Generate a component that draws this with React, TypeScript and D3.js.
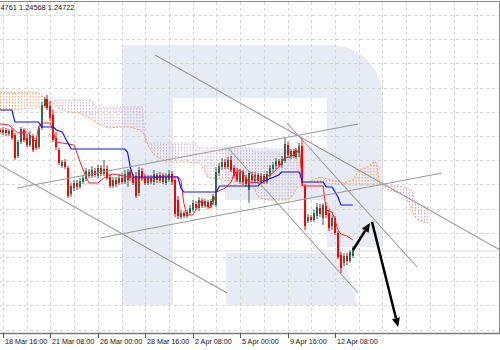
import React, { useEffect, useRef } from "react";
import * as d3 from "d3";

const W = 500;
const H = 350;

// H4 bars, bar 0 = 18 Mar 16:00. first visible bar is -1
const firstBar = -1;
// [open, high, low, close]
const candles: [number, number, number, number][] = [
  [1.2582, 1.2584, 1.2578, 1.258], [1.2579, 1.2585, 1.2577, 1.2582], [1.2582, 1.2584, 1.2576, 1.2579],
  [1.2578, 1.2583, 1.2576, 1.2581], [1.2582, 1.2584, 1.2572, 1.2574], [1.2577, 1.2579, 1.2552, 1.2554],
  [1.2556, 1.2572, 1.2554, 1.257], [1.257, 1.2585, 1.2568, 1.2583], [1.2582, 1.2584, 1.257, 1.2572],
  [1.2574, 1.2578, 1.2565, 1.2567], [1.2567, 1.2581, 1.2565, 1.2577], [1.2576, 1.2578, 1.256, 1.2562],
  [1.2572, 1.2574, 1.2562, 1.2564], [1.2565, 1.2586, 1.2563, 1.2584], [1.2584, 1.261, 1.2582, 1.2607],
  [1.2606, 1.2615, 1.2604, 1.2613], [1.2613, 1.2617, 1.2602, 1.2604], [1.2606, 1.2611, 1.2591, 1.2594],
  [1.2597, 1.2602, 1.257, 1.2572], [1.2574, 1.258, 1.2562, 1.2565], [1.2562, 1.2564, 1.2547, 1.2549],
  [1.2546, 1.2552, 1.2544, 1.255], [1.255, 1.2553, 1.2543, 1.2545], [1.2544, 1.2546, 1.2514, 1.2516],
  [1.2518, 1.2529, 1.2515, 1.2526], [1.2524, 1.2532, 1.2521, 1.2529], [1.2529, 1.2532, 1.2522, 1.2525],
  [1.2525, 1.2534, 1.2523, 1.2531], [1.253, 1.2537, 1.2528, 1.2534], [1.2533, 1.2544, 1.2531, 1.2541],
  [1.254, 1.2543, 1.2534, 1.2536], [1.2536, 1.2546, 1.2534, 1.2542], [1.2541, 1.2544, 1.2535, 1.2537],
  [1.2536, 1.2547, 1.2534, 1.2544], [1.2544, 1.2547, 1.2536, 1.2538], [1.2538, 1.2552, 1.2536, 1.2543],
  [1.2543, 1.2547, 1.2532, 1.2534], [1.2535, 1.2538, 1.2524, 1.2526], [1.2526, 1.2535, 1.2524, 1.2532],
  [1.2532, 1.2535, 1.2525, 1.2528], [1.2529, 1.2538, 1.2527, 1.2534], [1.2534, 1.2539, 1.2528, 1.253],
  [1.253, 1.2542, 1.2528, 1.2538], [1.2532, 1.2543, 1.2525, 1.254], [1.254, 1.2542, 1.2531, 1.2534],
  [1.2535, 1.2538, 1.2527, 1.2529], [1.2536, 1.254, 1.2514, 1.2516], [1.2519, 1.2545, 1.2516, 1.2542],
  [1.2541, 1.2544, 1.2531, 1.2534], [1.2535, 1.2538, 1.2527, 1.2529], [1.2529, 1.2537, 1.2527, 1.2534],
  [1.2534, 1.2537, 1.2528, 1.253], [1.253, 1.2542, 1.2527, 1.2538], [1.2537, 1.2539, 1.2529, 1.2532],
  [1.2531, 1.254, 1.2529, 1.2537], [1.2537, 1.2539, 1.2528, 1.253], [1.2529, 1.2539, 1.2527, 1.2535],
  [1.2532, 1.2542, 1.253, 1.2538], [1.2538, 1.2541, 1.2527, 1.253], [1.2532, 1.2534, 1.2495, 1.2498],
  [1.2512, 1.2516, 1.2493, 1.2496], [1.2495, 1.2502, 1.2493, 1.2499], [1.2499, 1.2501, 1.2494, 1.2496],
  [1.2496, 1.2502, 1.2494, 1.25], [1.2499, 1.2507, 1.2497, 1.2504], [1.2502, 1.2512, 1.25, 1.2509],
  [1.2508, 1.2511, 1.2502, 1.2504], [1.2504, 1.2515, 1.2501, 1.2512], [1.2511, 1.2514, 1.2504, 1.2506],
  [1.2506, 1.2513, 1.2504, 1.2511], [1.251, 1.2512, 1.2503, 1.2505], [1.2506, 1.2513, 1.2504, 1.2511],
  [1.251, 1.2518, 1.2507, 1.2516], [1.2507, 1.2545, 1.2505, 1.254], [1.2539, 1.2549, 1.2536, 1.2546],
  [1.2545, 1.2554, 1.2542, 1.255], [1.255, 1.2553, 1.2543, 1.2545], [1.2545, 1.2555, 1.2543, 1.2552],
  [1.2552, 1.2556, 1.254, 1.2542], [1.2544, 1.2547, 1.2534, 1.2536], [1.254, 1.2544, 1.253, 1.2532],
  [1.253, 1.2543, 1.2528, 1.254], [1.254, 1.2542, 1.2527, 1.253], [1.2534, 1.2537, 1.2525, 1.2528],
  [1.2522, 1.2541, 1.2509, 1.2539], [1.2538, 1.254, 1.2529, 1.2532], [1.2531, 1.254, 1.2529, 1.2537],
  [1.2537, 1.2539, 1.2528, 1.2531], [1.253, 1.2539, 1.2528, 1.2536], [1.2536, 1.2538, 1.2528, 1.253],
  [1.253, 1.2541, 1.2528, 1.2538], [1.2536, 1.2547, 1.2533, 1.2544], [1.2543, 1.255, 1.254, 1.2547],
  [1.2546, 1.2554, 1.2543, 1.2551], [1.2551, 1.2553, 1.2545, 1.2547], [1.2547, 1.2556, 1.2544, 1.2553],
  [1.2551, 1.2574, 1.2549, 1.2568], [1.2567, 1.257, 1.2554, 1.2557], [1.2556, 1.2563, 1.2553, 1.2561],
  [1.2561, 1.2563, 1.2554, 1.2556], [1.2555, 1.2564, 1.2553, 1.2562], [1.2559, 1.2569, 1.2555, 1.2566],
  [1.2566, 1.2574, 1.2526, 1.2529], [1.2526, 1.2528, 1.2482, 1.2486], [1.2491, 1.2498, 1.2489, 1.2495],
  [1.2495, 1.2497, 1.249, 1.2492], [1.2492, 1.2502, 1.249, 1.2499], [1.2496, 1.2509, 1.2493, 1.2505],
  [1.2504, 1.2508, 1.2495, 1.2498], [1.2494, 1.2509, 1.2487, 1.2507], [1.2506, 1.251, 1.2494, 1.2497],
  [1.2499, 1.2503, 1.2481, 1.2484], [1.2486, 1.2497, 1.2482, 1.2494], [1.2494, 1.2496, 1.2477, 1.2479],
  [1.2479, 1.2481, 1.2453, 1.2455], [1.2457, 1.246, 1.2439, 1.2444], [1.2449, 1.2459, 1.2446, 1.2456],
  [1.2456, 1.2459, 1.2447, 1.2451], [1.2451, 1.2462, 1.2449, 1.246], [1.2456, 1.2466, 1.2454, 1.2464],
];

const tickBars = [0, 16, 32, 48, 64, 80, 96, 112];
const tickLabels = [
  "18 Mar 16:00", "21 Mar 08:00", "26 Mar 00:00", "28 Mar 16:00",
  "2 Apr 08:00", "5 Apr 00:00", "9 Apr 16:00", "12 Apr 08:00",
];

// Ichimoku lines as [bar, price]
const tenkan: [number, number][] = [
  [-1, 1.2588], [2, 1.2587], [5, 1.2579], [8, 1.258], [10, 1.2574], [11, 1.257], [12, 1.2585],
  [13, 1.2589], [16, 1.2589], [18, 1.257], [24, 1.2567], [26, 1.255], [28, 1.2535], [29, 1.2529],
  [32, 1.2529], [34, 1.2534], [37, 1.2538], [39, 1.2537], [45, 1.2534], [50, 1.2534], [55, 1.2536],
  [59, 1.2535], [60, 1.2532], [61, 1.2509], [62, 1.2497], [64, 1.2497], [66, 1.2507], [67, 1.2512],
  [69, 1.2505], [70, 1.2504], [71, 1.251], [72, 1.252], [75, 1.2524], [77, 1.253], [78, 1.2539],
  [80, 1.2542], [82, 1.2534], [83, 1.2529], [87, 1.253], [89, 1.2535], [91, 1.2539], [93, 1.2545],
  [95, 1.2554], [97, 1.2555], [99, 1.2559], [100, 1.2564], [101, 1.2526], [108, 1.2526],
  [109, 1.2502], [111, 1.25], [112, 1.2492], [113, 1.2482], [114, 1.2478], [116, 1.2476], [118, 1.2472],
];
const kijun: [number, number][] = [
  [-1, 1.2602], [3, 1.2602], [4, 1.259], [12, 1.259], [13, 1.2585], [17, 1.2585], [18, 1.2582],
  [20, 1.258], [21, 1.2574], [23, 1.2563], [41, 1.2563], [42, 1.256], [43, 1.2544], [44, 1.2535],
  [59, 1.2535], [60, 1.2524], [61, 1.252], [72, 1.252], [73, 1.2526], [86, 1.2526], [87, 1.2529],
  [89, 1.2532], [93, 1.2537], [94, 1.254], [100, 1.254], [101, 1.253], [108, 1.253], [109, 1.2525],
  [111, 1.2525], [113, 1.2515], [114, 1.2507], [118, 1.2507],
];

// Senkou spans (shifted 26 bars ahead)
const cloudBars = [
  -1, 4, 9, 12, 15, 17, 18, 22, 26, 29, 30, 31, 33, 36, 39, 43, 46, 47, 48, 49, 51, 55, 62, 65, 66,
  68, 69, 74, 83, 85, 86, 89, 96, 98, 99, 100, 102, 107, 111, 115, 118, 120, 123, 125, 126, 127,
  130, 134, 136, 138, 139, 140, 143, 144,
];
const spanA = [
  1.262, 1.2619, 1.262, 1.2619, 1.2612, 1.2608, 1.2605, 1.26, 1.2599, 1.2594, 1.2592, 1.259, 1.2587,
  1.2584, 1.2585, 1.2585, 1.2582, 1.258, 1.2576, 1.2566, 1.2557, 1.255, 1.255, 1.2549, 1.2549,
  1.2542, 1.2535, 1.2532, 1.2529, 1.2522, 1.2515, 1.2512, 1.2512, 1.2517, 1.2524, 1.2525, 1.2529,
  1.2535, 1.2532, 1.2529, 1.2532, 1.2542, 1.2545, 1.255, 1.2549, 1.2529, 1.2522, 1.2519, 1.2515,
  1.2502, 1.2495, 1.2492, 1.2489, 1.2489,
];
const spanB = [
  1.2602, 1.2602, 1.2604, 1.2604, 1.2608, 1.2611, 1.2612, 1.2612, 1.2612, 1.2612, 1.2612, 1.2605,
  1.2605, 1.2605, 1.2605, 1.2605, 1.2605, 1.2605, 1.2569, 1.2569, 1.2569, 1.2569, 1.2569, 1.2569,
  1.2564, 1.2564, 1.2564, 1.2564, 1.2564, 1.256, 1.256, 1.256, 1.256, 1.256, 1.256, 1.2534, 1.253,
  1.2529, 1.2528, 1.2527, 1.2527, 1.2527, 1.2527, 1.2527, 1.2527, 1.2527, 1.2527, 1.2526, 1.2524,
  1.2522, 1.2509, 1.2507, 1.2505, 1.2505,
];

// drawn objects: [bar1, price1, bar2, price2]
const trendLines: [number, number, number, number][] = [
  [-1, 1.2547, 75.6, 1.2419],
  [32.7, 1.2474, 148.1, 1.2539],
  [4.7, 1.2524, 119.8, 1.2588],
  [51.3, 1.2657, 167.7, 1.2462],
  [95.8, 1.2589, 139.7, 1.2445],
  [75.9, 1.2564, 119.8, 1.2419],
];
const arrows: [number, number, number, number][] = [
  [118.1, 1.2462, 123.8, 1.2489],
  [124.5, 1.249, 133.3, 1.2385],
];

// visible part of the quote line in the top-left corner
const quote = "4761 1.24568 1.24722";

const App: React.FC = () => {
  const svgRef = useRef<SVGSVGElement | null>(null);

  useEffect(() => {
    if (!svgRef.current) return;
    const svg = d3.select(svgRef.current);
    svg.selectAll("*").remove();

    const plotTop = 2;
    const plotBottom = 333;

    const x = d3.scaleLinear().domain([0, 112]).range([3, 335]);
    const y = d3.scaleLinear().domain([1.2379, 1.271]).range([plotBottom, plotTop]);

    const defs = svg.append("defs");
    defs.append("clipPath").attr("id", "plot")
      .append("rect").attr("x", 0).attr("y", plotTop).attr("width", 499).attr("height", plotBottom - plotTop);

    // dotted hatch like the terminal draws the cloud
    const hatch = (id: string, color: string) => {
      const p = defs.append("pattern").attr("id", id)
        .attr("patternUnits", "userSpaceOnUse").attr("width", 2.964).attr("height", 3);
      p.append("rect").attr("x", 0).attr("y", 0).attr("width", 1).attr("height", 1.5).attr("fill", color);
    };
    hatch("hatchA", "#f4a460");
    hatch("hatchB", "#cfa9cf");

    const cloud = cloudBars.map((b, k) => ({ x: x(b), a: y(spanA[k]), b: y(spanB[k]) }));
    const aboveB = d3.area<any>().x((d) => d.x).y0(0).y1((d) => d.b);
    const belowB = d3.area<any>().x((d) => d.x).y0((d) => d.b).y1(H);
    defs.append("clipPath").attr("id", "aboveB").append("path").attr("d", aboveB(cloud)!);
    defs.append("clipPath").attr("id", "belowB").append("path").attr("d", belowB(cloud)!);

    svg.append("rect").attr("width", W).attr("height", H).attr("fill", "#fff");

    const g = svg.append("g").attr("clip-path", "url(#plot)");

    // watermark
    g.append("path")
      .attr("d", "M122,45 H330 A53,53 0 0 1 383,98 V247 H327 V98 H173 V305 H122 Z")
      .attr("fill", "#e7ebf3");
    g.append("path").attr("d", "M226,253 H343 L357,305 H226 Z").attr("fill", "#e7ebf3");
    g.append("rect").attr("x", 225).attr("y", 148).attr("width", 102).attr("height", 52).attr("fill", "#e7ebf3");
    g.append("line").attr("x1", 0).attr("x2", W).attr("y1", 251).attr("y2", 251)
      .attr("stroke", "#ececec").attr("stroke-width", 2);

    // grid
    const gridBars = d3.range(0, 170, 8);
    g.selectAll(".vg").data(gridBars).enter().append("line")
      .attr("x1", (d) => Math.round(x(d)) + 0.5).attr("x2", (d) => Math.round(x(d)) + 0.5)
      .attr("y1", plotTop).attr("y2", plotBottom)
      .attr("stroke", "#d6d6d6").attr("stroke-dasharray", "3,3");
    const gridPrices = d3.range(1.2697, 1.2382, -0.00242);
    g.selectAll(".hg").data(gridPrices).enter().append("line")
      .attr("y1", (d) => Math.round(y(d)) + 0.5).attr("y2", (d) => Math.round(y(d)) + 0.5)
      .attr("x1", 0).attr("x2", W)
      .attr("stroke", "#d6d6d6").attr("stroke-dasharray", "3,3");

    // cloud
    const between = d3.area<any>().x((d) => d.x).y0((d) => d.a).y1((d) => d.b);
    g.append("path").attr("d", between(cloud)!).attr("fill", "url(#hatchA)").attr("clip-path", "url(#aboveB)");
    g.append("path").attr("d", between(cloud)!).attr("fill", "url(#hatchB)").attr("clip-path", "url(#belowB)");
    g.append("path").attr("d", d3.line<any>().x((d) => d.x).y((d) => d.a)(cloud)!)
      .attr("fill", "none").attr("stroke", "#f4a460").attr("stroke-dasharray", "2,1.5");
    g.append("path").attr("d", d3.line<any>().x((d) => d.x).y((d) => d.b)(cloud)!)
      .attr("fill", "none").attr("stroke", "#d8bfd8").attr("stroke-dasharray", "2,1.5");

    // candles
    const bull = "#2e6b50";
    const bear = "#ff0000";
    const cg = g.append("g");
    candles.forEach(([o, h, l, c], k) => {
      const cx = Math.round(x(firstBar + k));
      const col = c >= o ? bull : bear;
      cg.append("rect").attr("x", cx - 0.5).attr("width", 1)
        .attr("y", y(h)).attr("height", Math.max(1, y(l) - y(h))).attr("fill", col);
      const top = y(Math.max(o, c));
      cg.append("rect").attr("x", cx - 1).attr("width", 2)
        .attr("y", top).attr("height", Math.max(1, y(Math.min(o, c)) - top)).attr("fill", col);
    });

    // tenkan / kijun
    const line = d3.line<[number, number]>().x((d) => x(d[0])).y((d) => y(d[1]));
    g.append("path").attr("d", line(tenkan)!).attr("fill", "none").attr("stroke", "#ff2020").attr("stroke-width", 1);
    g.append("path").attr("d", line(kijun)!).attr("fill", "none").attr("stroke", "#1010ff").attr("stroke-width", 1.2);

    // trend lines
    g.selectAll(".tl").data(trendLines).enter().append("line")
      .attr("x1", (d) => x(d[0])).attr("y1", (d) => y(d[1]))
      .attr("x2", (d) => x(d[2])).attr("y2", (d) => y(d[3]))
      .attr("stroke", "#999").attr("stroke-width", 1.1);

    // arrows
    arrows.forEach(([b1, p1, b2, p2]) => {
      const x1 = x(b1), y1 = y(p1), x2 = x(b2), y2 = y(p2);
      const ang = Math.atan2(y2 - y1, x2 - x1);
      const len = 9, half = 4;
      const bx = x2 - len * Math.cos(ang), by = y2 - len * Math.sin(ang);
      g.append("line").attr("x1", x1).attr("y1", y1).attr("x2", bx).attr("y2", by)
        .attr("stroke", "#000").attr("stroke-width", 2.5);
      const pts = [
        [x2, y2],
        [bx + half * Math.sin(ang), by - half * Math.cos(ang)],
        [bx - half * Math.sin(ang), by + half * Math.cos(ang)],
      ];
      g.append("polygon").attr("points", pts.map((p) => p.join(",")).join(" ")).attr("fill", "#000");
    });

    // frame
    svg.append("line").attr("x1", 0).attr("x2", W).attr("y1", 1.5).attr("y2", 1.5).attr("stroke", "#8a8a8a");
    svg.append("line").attr("x1", 499.5).attr("x2", 499.5).attr("y1", 1).attr("y2", plotBottom).attr("stroke", "#8a8a8a");
    svg.append("line").attr("x1", 0).attr("x2", W).attr("y1", plotBottom + 0.5).attr("y2", plotBottom + 0.5)
      .attr("stroke", "#7a7a7a").attr("stroke-width", 1.5);

    // time axis
    const ax = svg.append("g");
    tickBars.forEach((b, k) => {
      const tx = Math.round(x(b)) + 0.5;
      ax.append("line").attr("x1", tx).attr("x2", tx).attr("y1", plotBottom).attr("y2", plotBottom + 5)
        .attr("stroke", "#555");
      ax.append("text").attr("x", tx + 1.5).attr("y", 344)
        .attr("font-family", "'Liberation Sans', Arial, sans-serif").attr("font-size", 7.2)
        .attr("fill", "#111").text(tickLabels[k]);
    });

    svg.append("text").attr("x", 0.5).attr("y", 10)
      .attr("font-family", "'Liberation Sans', Arial, sans-serif").attr("font-size", 7.4)
      .attr("fill", "#111").text(quote);
  }, []);

  return (
    <svg
      ref={svgRef}
      width={W}
      height={H}
      style={{ position: "absolute", left: 0, top: 0, display: "block" }}
    />
  );
};

export default App;
